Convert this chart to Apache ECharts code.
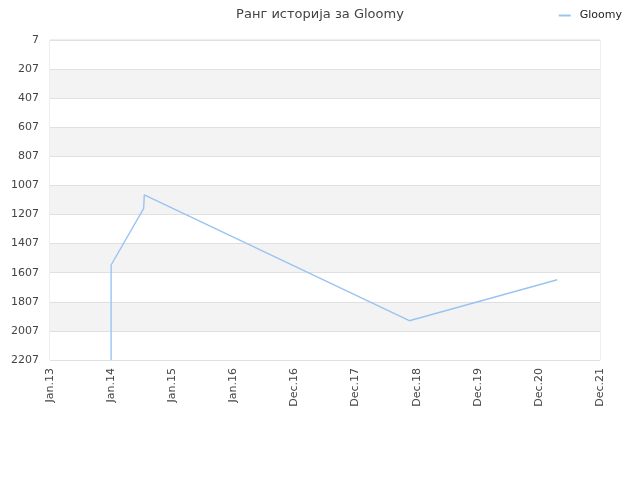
<!DOCTYPE html>
<html><head><meta charset="utf-8">
<script src="https://cdn.jsdelivr.net/npm/echarts@6/dist/echarts.min.js"></script>
<style>html,body{margin:0;padding:0;background:#fff}#c{width:640px;height:480px}</style>
</head><body><div id="c"></div>
<script>
var xLabels = ['Jan.13','Jan.14','Jan.15','Jan.16','Dec.16','Dec.17','Dec.18','Dec.19','Dec.20','Dec.21'];
var xPos = [1.0, 1.0, 1.533, 1.543, 5.88, 8.30];
var ranks = [2207, 1554, 1164, 1071, 1937, 1655];
var yTicks = [7, 207, 407, 607, 807, 1007, 1207, 1407, 1607, 1807, 2007, 2207];

var data = xPos.map(function(x, i){ return [x, ranks[i]]; });
var chart = echarts.init(document.getElementById('c'));
chart.setOption({
  animation: false,
  title: { text: 'Ранг историја за Gloomy', left: 'center', top: 3,
    textStyle: { fontSize: 13, fontWeight: 'normal', color: '#444', fontFamily: 'DejaVu Sans' } },
  legend: { right: 13, top: 5, itemWidth: 12, itemHeight: 2, itemGap: 5,
    textStyle: { fontSize: 11, color: '#222', fontFamily: 'DejaVu Sans', padding: [0, 0, 0, 4] },
    data: [{ name: 'Gloomy', icon: 'rect' }] },
  grid: { left: 50, right: 40, top: 40, bottom: 120, show: true, borderColor: '#ddd', borderWidth: 1 },
  xAxis: { type: 'value', min: 0, max: 9, interval: 1,
    axisLine: { show: false }, axisTick: { show: false }, splitLine: { show: false },
    axisLabel: { rotate: 90, fontSize: 11, color: '#444', fontFamily: 'DejaVu Sans', margin: 8,
      formatter: function(v){ return xLabels[Math.round(v)] || ''; } } },
  yAxis: { type: 'value', inverse: true, min: 7, max: 2207, interval: 200,
    axisLine: { show: false }, axisTick: { show: false },
    splitLine: { show: true, lineStyle: { color: '#e0e0e0' } },
    splitArea: { show: true, areaStyle: { color: ['#ffffff', '#f3f3f3'] } },
    axisLabel: { fontSize: 11, color: '#444', fontFamily: 'DejaVu Sans', margin: 11, padding: [3, 0, 0, 0],
      formatter: function(v){ return yTicks.indexOf(v) >= 0 ? String(v) : ''; } } },
  series: [{ name: 'Gloomy', type: 'line', data: data, symbol: 'none',
    lineStyle: { color: '#99c4f2', width: 1.4 }, itemStyle: { color: '#99c4f2' } }]
});
</script></body></html>
